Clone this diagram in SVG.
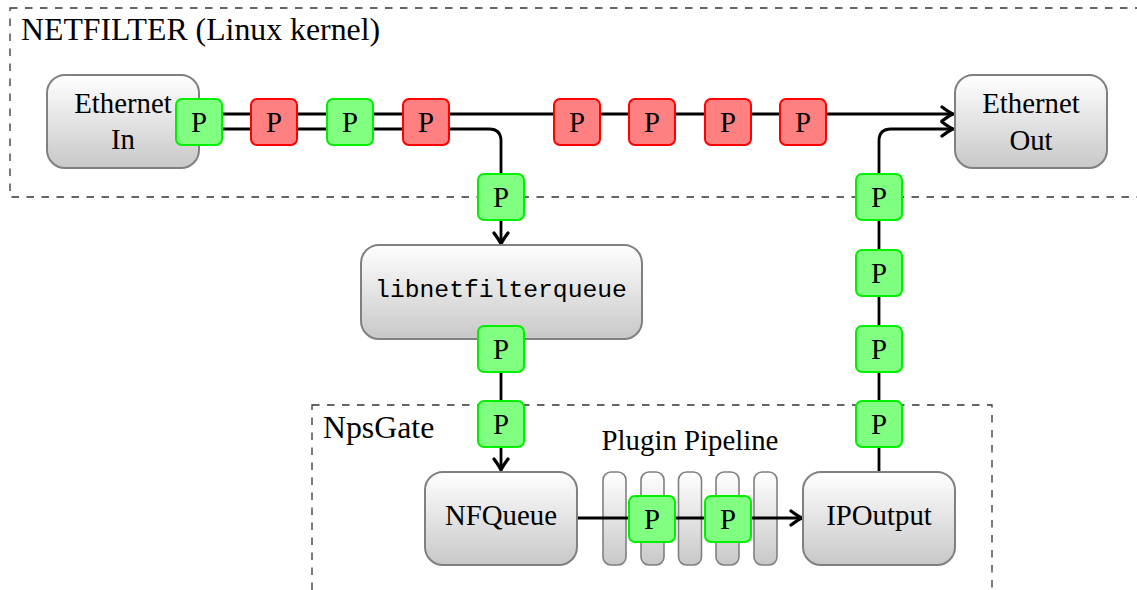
<svg xmlns="http://www.w3.org/2000/svg" width="1137" height="590" viewBox="0 0 1137 590">
<defs>
<linearGradient id="g" x1="0" y1="0" x2="0" y2="1">
<stop offset="0" stop-color="#ffffff"/>
<stop offset="1" stop-color="#c8c8c8"/>
</linearGradient>
<marker id="arr" viewBox="-13 -9 15 18" refX="0" refY="0" markerWidth="15" markerHeight="18" markerUnits="userSpaceOnUse" orient="auto">
<path d="M-11,-7 Q-4,-1.8 0,0 Q-4,1.8 -11,7" fill="none" stroke="#000" stroke-width="3.2" stroke-linecap="round" stroke-linejoin="round"/>
</marker>
</defs>
<style>
.frame{fill:none;stroke:#333;stroke-width:1.3;stroke-dasharray:7.5 7.5}
.node{fill:url(#g);stroke:#808080;stroke-width:2}
.stage{fill:url(#g);stroke:#808080;stroke-width:1.6}
.pg{fill:#80ff80;stroke:#00f000;stroke-width:2}
.pr{fill:#ff8080;stroke:#ff0000;stroke-width:2}
.t{font-family:"Liberation Serif","Times New Roman",serif;font-size:28.8px;fill:#000;text-anchor:middle}
.title{font-family:"Liberation Serif","Times New Roman",serif;font-size:31.8px;fill:#000}
.mono{font-family:"Liberation Mono","DejaVu Sans Mono",monospace;font-size:24.7px;fill:#000;text-anchor:middle}
.ln{fill:none;stroke:#000;stroke-width:2.8}
</style>
<rect x="0" y="0" width="1137" height="590" fill="#fff"/>
<g id="netfilter">
<rect class="frame" x="10" y="8" width="1140" height="189"/>
<text class="title" x="21" y="40">NETFILTER (Linux kernel)</text>
</g>
<g id="npsgate">
<rect class="frame" x="312" y="405" width="680" height="200"/>
<text class="title" x="323" y="438">NpsGate</text>
</g>
<g id="pipeline">
<text class="t" x="690" y="450">Plugin Pipeline</text>
<rect class="stage" x="603" y="472" width="23" height="93" rx="8"/>
<rect class="stage" x="641" y="472" width="23" height="93" rx="8"/>
<rect class="stage" x="678.5" y="472" width="23" height="93" rx="8"/>
<rect class="stage" x="716" y="472" width="23" height="93" rx="8"/>
<rect class="stage" x="754" y="472" width="23" height="93" rx="8"/>
</g>
<g id="connectors">
<path class="ln" d="M199,114 H953" marker-end="url(#arr)"/>
<path class="ln" d="M199,129 H489 Q501,129 501,141 V244" marker-end="url(#arr)"/>
<path class="ln" d="M501,339 V470" marker-end="url(#arr)"/>
<path class="ln" d="M577,518 H802" marker-end="url(#arr)"/>
<path class="ln" d="M879,472 V141 Q879,129 891,129 H953" marker-end="url(#arr)"/>
</g>
<g id="ethernet-in">
<rect class="node" x="47" y="75" width="152" height="93" rx="18"/>
<text class="t" x="123" y="113">Ethernet</text>
<text class="t" x="123" y="149">In</text>
</g>
<g id="ethernet-out">
<rect class="node" x="955" y="75" width="152" height="93" rx="18"/>
<text class="t" x="1031" y="113">Ethernet</text>
<text class="t" x="1031" y="150">Out</text>
</g>
<g id="libnetfilterqueue">
<rect class="node" x="361" y="245" width="281" height="94" rx="18"/>
<text class="mono" x="501" y="297">libnetfilterqueue</text>
</g>
<g id="nfqueue">
<rect class="node" x="425" y="472" width="152" height="93" rx="18"/>
<text class="t" x="501" y="525">NFQueue</text>
</g>
<g id="ipoutput">
<rect class="node" x="803" y="472" width="152" height="93" rx="18"/>
<text class="t" x="879" y="525">IPOutput</text>
</g>
<g id="packets">
<g id="p1"><rect class="pg" x="176" y="99" width="46" height="46" rx="6"/><text class="t" x="199" y="131.5">P</text></g>
<g id="p2"><rect class="pr" x="251" y="99" width="46" height="46" rx="6"/><text class="t" x="274" y="131.5">P</text></g>
<g id="p3"><rect class="pg" x="327" y="99" width="46" height="46" rx="6"/><text class="t" x="350" y="131.5">P</text></g>
<g id="p4"><rect class="pr" x="403" y="99" width="46" height="46" rx="6"/><text class="t" x="426" y="131.5">P</text></g>
<g id="p5"><rect class="pr" x="554" y="99" width="46" height="46" rx="6"/><text class="t" x="577" y="131.5">P</text></g>
<g id="p6"><rect class="pr" x="629" y="99" width="46" height="46" rx="6"/><text class="t" x="652" y="131.5">P</text></g>
<g id="p7"><rect class="pr" x="705" y="99" width="46" height="46" rx="6"/><text class="t" x="728" y="131.5">P</text></g>
<g id="p8"><rect class="pr" x="780" y="99" width="46" height="46" rx="6"/><text class="t" x="803" y="131.5">P</text></g>
<g id="p9"><rect class="pg" x="478" y="174" width="46" height="46" rx="6"/><text class="t" x="501" y="206.5">P</text></g>
<g id="p10"><rect class="pg" x="478" y="326" width="46" height="46" rx="6"/><text class="t" x="501" y="358.5">P</text></g>
<g id="p11"><rect class="pg" x="478" y="401" width="46" height="46" rx="6"/><text class="t" x="501" y="433.5">P</text></g>
<g id="p12"><rect class="pg" x="629" y="496" width="46" height="46" rx="6"/><text class="t" x="652" y="528.5">P</text></g>
<g id="p13"><rect class="pg" x="705" y="496" width="46" height="46" rx="6"/><text class="t" x="728" y="528.5">P</text></g>
<g id="p14"><rect class="pg" x="856" y="174" width="46" height="46" rx="6"/><text class="t" x="879" y="206.5">P</text></g>
<g id="p15"><rect class="pg" x="856" y="250" width="46" height="46" rx="6"/><text class="t" x="879" y="282.5">P</text></g>
<g id="p16"><rect class="pg" x="856" y="326" width="46" height="46" rx="6"/><text class="t" x="879" y="358.5">P</text></g>
<g id="p17"><rect class="pg" x="856" y="401" width="46" height="46" rx="6"/><text class="t" x="879" y="433.5">P</text></g>
</g>
</svg>
